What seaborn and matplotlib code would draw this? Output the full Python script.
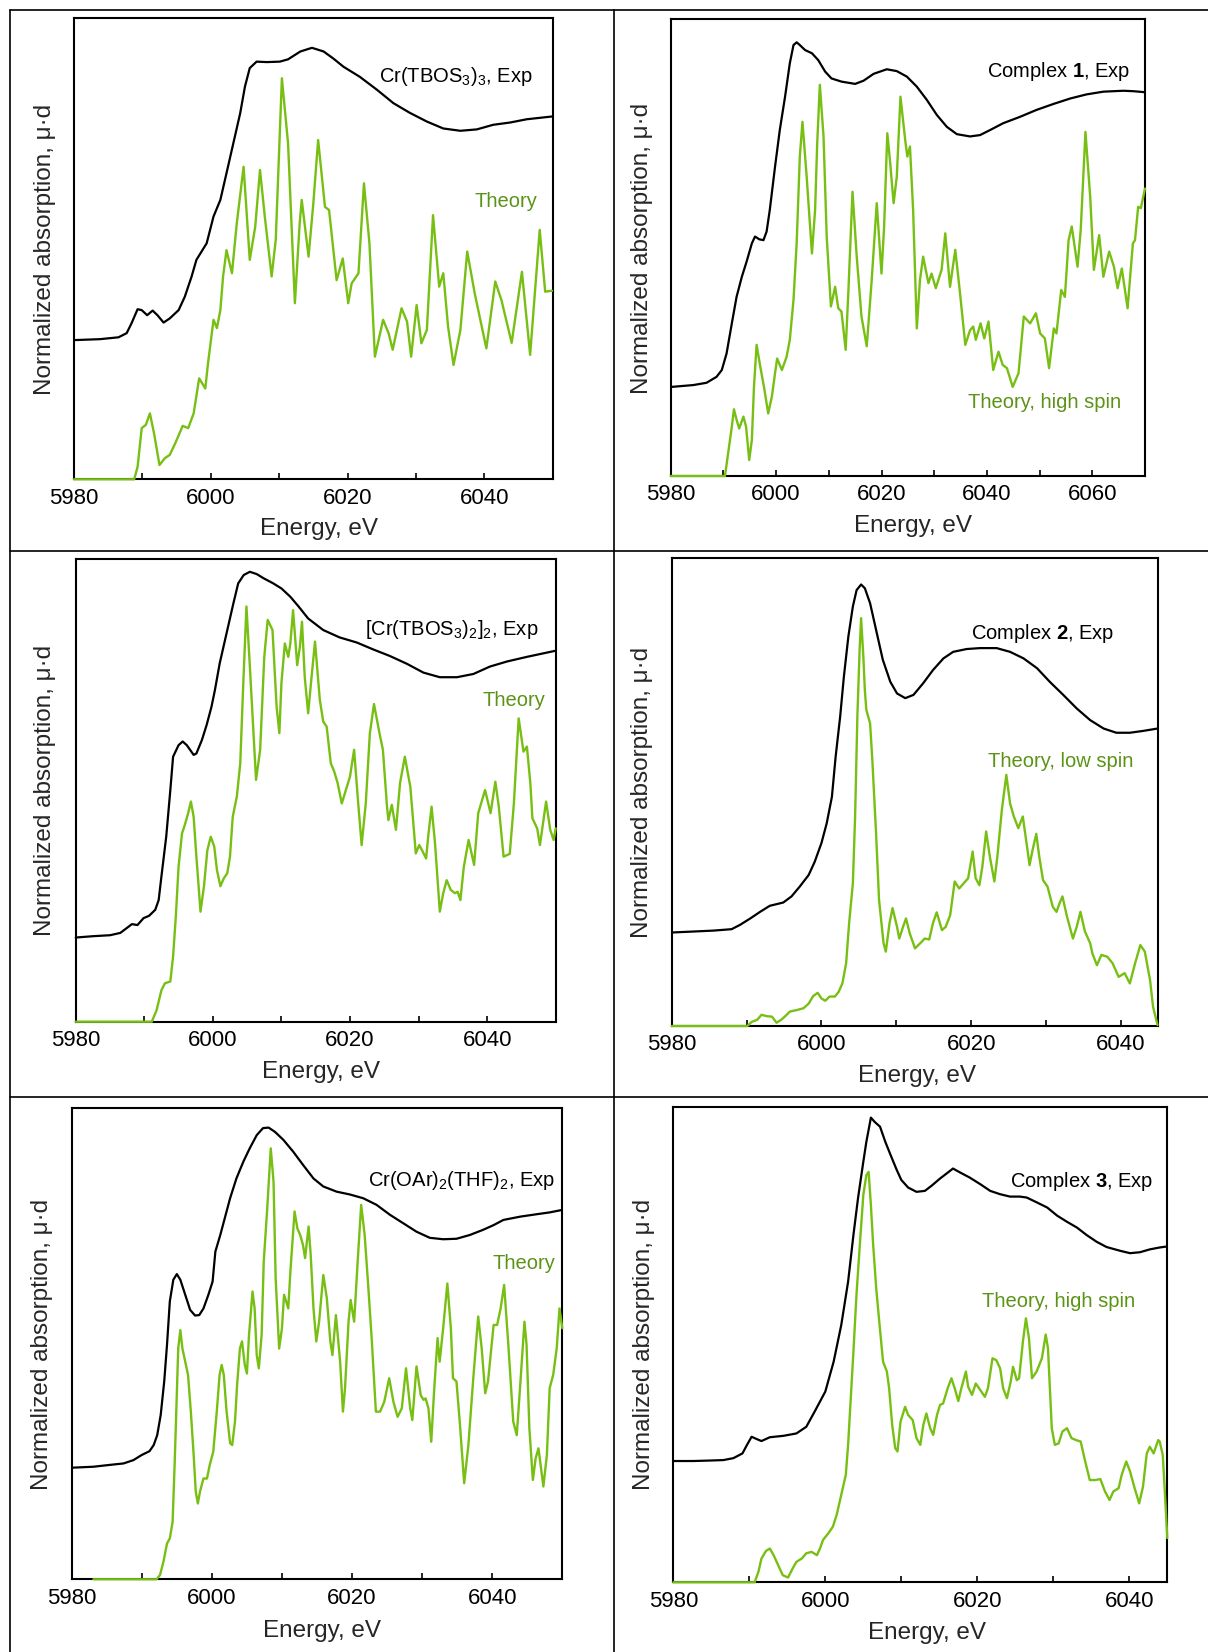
import numpy as np
import matplotlib
matplotlib.use("Agg")
import matplotlib.pyplot as plt
import seaborn as sns
from matplotlib.lines import Line2D
from matplotlib.ticker import MultipleLocator, FuncFormatter

sns.set_style("white")
plt.rcParams["font.family"] = ["Liberation Sans", "DejaVu Sans"]
plt.rcParams["mathtext.fontset"] = "custom"
plt.rcParams["mathtext.rm"] = "Liberation Sans"
plt.rcParams["mathtext.it"] = "Liberation Sans:italic"
plt.rcParams["mathtext.bf"] = "Liberation Sans:bold"

# ---------------- data: (energy eV, normalized absorption, arb. units) ----------------
p1_exp = np.array([
    (5980.15, 30.2), (5983.8, 30.4), (5986.5, 30.8), (5987.7, 31.7), (5988.4, 33.8),
    (5989.3, 36.9), (5989.9, 36.7), (5990.7, 35.6), (5991.5, 36.6), (5992.2, 35.6),
    (5993.1, 34.0), (5994.0, 34.9), (5995.3, 36.7), (5996.2, 39.6), (5997.2, 44.0),
    (5997.9, 47.6), (5999.4, 51.2), (6000.4, 57.0), (6001.4, 60.6), (6002.3, 66.4),
    (6003.3, 72.9), (6004.3, 79.4), (6005.0, 85.2), (6005.7, 89.2), (6006.7, 90.6),
    (6008.2, 90.5), (6010.1, 90.6), (6011.3, 91.1), (6013.1, 92.8), (6014.8, 93.6),
    (6016.5, 92.8), (6017.9, 91.3), (6019.4, 89.5), (6021.8, 87.3), (6024.3, 84.5),
    (6026.7, 81.6), (6029.1, 79.5), (6031.6, 77.6), (6034.0, 76.1), (6036.5, 75.6),
    (6038.9, 75.9), (6041.3, 76.9), (6043.8, 77.4), (6046.2, 78.1), (6049.9, 78.7)])
p1_thy = np.array([
    (5980.0, 0), (5988.8, 0), (5989.3, 2.7), (5989.9, 11.1), (5990.5, 11.8), (5991.1, 14.3),
    (5991.7, 10.0), (5992.5, 3.1), (5993.3, 4.6), (5994.0, 5.3), (5994.8, 7.8), (5995.9, 11.6),
    (5996.7, 11.1), (5997.5, 14.3), (5998.3, 21.9), (5999.2, 19.7), (5999.6, 25.2), (6000.4, 34.6),
    (6000.9, 32.8), (6001.4, 36.7), (6001.8, 44.0), (6002.3, 49.7), (6003.1, 44.7), (6003.8, 55.5),
    (6004.8, 67.8), (6005.7, 47.6), (6006.5, 54.8), (6007.2, 67.1), (6007.9, 57.0), (6008.9, 44.0),
    (6009.5, 51.9), (6010.4, 87.0), (6011.3, 72.9), (6012.3, 38.2), (6013.0, 55.5), (6013.3, 60.6),
    (6014.3, 48.3), (6015.0, 59.9), (6015.7, 73.6), (6016.7, 59.1), (6017.3, 58.4), (6018.4, 43.2),
    (6019.3, 47.9), (6020.1, 38.2), (6020.6, 42.5), (6021.6, 44.7), (6022.4, 64.2), (6023.2, 51.2),
    (6024.0, 26.6), (6025.2, 34.6), (6026.0, 31.7), (6026.6, 28.1), (6027.9, 37.1), (6028.7, 34.2),
    (6029.3, 26.6), (6030.1, 37.8), (6030.8, 29.5), (6031.6, 32.4), (6032.5, 57.3), (6033.4, 41.8),
    (6034.0, 44.7), (6034.7, 33.1), (6035.5, 24.8), (6036.5, 32.4), (6037.5, 49.4), (6038.6, 40.3),
    (6040.3, 28.4), (6041.6, 42.9), (6042.5, 38.9), (6044.0, 29.6), (6045.5, 45.0), (6046.7, 27.0),
    (6048.1, 54.1), (6048.9, 40.7), (6049.9, 40.9)])

p2_exp = np.array([
    (5980.2, 19.5), (5984.3, 19.9), (5986.8, 20.4), (5988.7, 21.7), (5989.7, 23.2), (5990.6, 26.8),
    (5991.6, 33.4), (5992.5, 39.2), (5993.5, 43.6), (5994.4, 46.9), (5995.4, 50.9), (5996.0, 52.4),
    (5996.8, 51.8), (5997.6, 51.6), (5998.2, 53.5), (5998.8, 58.2), (5999.8, 67.7), (6000.7, 75.7),
    (6001.7, 83.0), (6002.6, 90.3), (6003.3, 94.3), (6003.9, 94.9), (6004.5, 94.3), (6005.5, 93.2),
    (6006.8, 92.5), (6008.0, 91.0), (6009.3, 88.5), (6010.5, 87.0), (6012.4, 86.3), (6015.0, 85.8),
    (6016.6, 86.5), (6018.5, 88.0), (6021.0, 89.0), (6022.9, 88.6), (6024.8, 87.4), (6026.7, 85.2),
    (6028.6, 82.3), (6030.5, 79.0), (6032.4, 76.4), (6034.3, 74.8), (6036.8, 74.3), (6038.7, 74.6),
    (6040.6, 75.7), (6043.1, 77.2), (6046.3, 78.6), (6049.4, 80.1), (6052.6, 81.4), (6055.8, 82.6),
    (6058.9, 83.5), (6062.1, 84.1), (6065.9, 84.3), (6067.8, 84.2), (6069.8, 84.0)])
p2_thy = np.array([
    (5980.0, 0), (5990.3, 0), (5990.9, 5.0), (5991.6, 10.8), (5992.0, 14.6), (5992.5, 12.3),
    (5993.0, 10.4), (5993.8, 13.0), (5994.3, 10.8), (5994.9, 3.5), (5995.4, 7.9), (5995.8, 19.5),
    (5996.3, 28.7), (5997.0, 23.9), (5997.7, 19.5), (5998.5, 13.7), (5999.2, 17.4), (5999.8, 22.5),
    (6000.2, 25.7), (6001.1, 23.2), (6002.0, 26.1), (6002.6, 29.8), (6003.3, 38.5), (6003.9, 50.9),
    (6004.5, 69.9), (6005.0, 77.5), (6005.8, 65.5), (6006.8, 48.7), (6007.4, 58.2), (6007.8, 72.8),
    (6008.3, 85.6), (6009.0, 74.3), (6009.6, 52.4), (6010.4, 37.1), (6011.2, 41.4), (6011.8, 36.7),
    (6012.4, 36.0), (6013.2, 27.6), (6013.7, 40.0), (6014.5, 62.2), (6015.3, 48.0), (6016.2, 34.9),
    (6017.2, 28.4), (6018.1, 42.2), (6019.1, 59.7), (6020.0, 44.3), (6020.5, 54.6), (6021.1, 75.0),
    (6021.6, 69.1), (6022.3, 59.7), (6022.9, 65.5), (6023.6, 83.0), (6024.5, 73.5), (6024.9, 69.9),
    (6025.4, 72.1), (6026.0, 58.2), (6026.7, 32.3), (6027.3, 42.9), (6027.9, 48.0), (6028.9, 42.2),
    (6029.5, 44.3), (6030.3, 41.1), (6031.4, 45.1), (6032.1, 53.1), (6033.0, 41.4), (6034.0, 49.5),
    (6034.9, 40.0), (6035.9, 28.7), (6036.8, 31.9), (6037.4, 32.7), (6037.9, 29.8), (6038.8, 33.4),
    (6039.5, 30.1), (6040.3, 33.8), (6041.2, 23.2), (6042.2, 27.2), (6043.0, 24.3), (6043.8, 23.6),
    (6044.9, 19.5), (6046.0, 22.5), (6047.0, 34.9), (6048.2, 33.4), (6049.3, 35.6), (6050.1, 31.2),
    (6051.0, 30.1), (6051.8, 23.6), (6052.7, 32.3), (6053.2, 31.2), (6054.1, 40.7), (6054.8, 39.2),
    (6055.5, 51.6), (6056.1, 54.6), (6057.2, 45.8), (6057.8, 53.8), (6058.7, 75.3), (6059.6, 61.1),
    (6060.3, 45.1), (6061.3, 52.7), (6062.1, 43.6), (6063.2, 49.1), (6064.1, 45.8), (6064.8, 41.1),
    (6065.6, 45.4), (6066.7, 36.7), (6067.7, 50.9), (6068.1, 51.6), (6068.7, 58.9), (6069.2, 58.6),
    (6070.0, 62.9)])

p3_exp = np.array([
    (5980.0, 18.2), (5982.6, 18.5), (5985.0, 18.7), (5986.5, 19.2), (5987.4, 20.2), (5988.2, 21.1),
    (5989.0, 20.9), (5989.9, 22.4), (5990.7, 22.9), (5991.6, 24.2), (5992.1, 26.3), (5992.5, 31.4),
    (5993.2, 40.0), (5993.8, 50.1), (5994.2, 57.3), (5995.0, 59.8), (5995.6, 60.6), (5996.2, 59.8),
    (5997.2, 57.7), (5997.6, 58.0), (5998.4, 60.9), (5999.1, 64.2), (5999.8, 68.1), (6000.3, 71.7),
    (6001.0, 77.5), (6002.0, 84.0), (6003.0, 90.5), (6003.7, 94.8), (6004.5, 96.6), (6005.4, 97.3),
    (6006.4, 96.8), (6007.4, 95.9), (6008.8, 94.8), (6010.0, 93.7), (6011.3, 91.9), (6012.5, 89.8),
    (6013.9, 87.2), (6016.1, 84.7), (6018.5, 83.1), (6021.0, 82.0), (6023.4, 80.5), (6025.8, 79.1),
    (6028.3, 77.4), (6030.7, 75.5), (6033.1, 74.5), (6035.6, 74.5), (6038.0, 75.2), (6040.4, 76.8),
    (6042.9, 77.9), (6045.8, 78.9), (6049.9, 80.2)])
p3_thy = np.array([
    (5980.0, 0), (5991.1, 0), (5991.8, 2.5), (5992.5, 6.8), (5993.0, 8.3), (5993.8, 8.7),
    (5994.2, 14.1), (5994.6, 22.7), (5995.0, 33.5), (5995.5, 40.7), (5995.9, 42.5), (5996.4, 45.1),
    (5996.8, 47.6), (5997.2, 44.3), (5997.6, 35.7), (5998.2, 23.8), (5998.7, 29.2), (5999.2, 37.1),
    (5999.7, 40.0), (6000.2, 37.9), (6000.6, 32.8), (6001.1, 29.3), (6001.6, 31.0), (6002.1, 32.1),
    (6002.5, 35.7), (6002.9, 44.3), (6003.5, 48.7), (6004.0, 55.9), (6004.4, 71.7), (6004.9, 89.8),
    (6005.4, 76.8), (6006.3, 52.3), (6006.9, 58.8), (6007.5, 78.9), (6008.0, 86.9), (6008.7, 84.7),
    (6009.3, 68.1), (6009.7, 62.4), (6010.0, 73.2), (6010.5, 81.8), (6011.0, 78.9), (6011.3, 81.8),
    (6011.7, 89.0), (6012.3, 77.1), (6012.7, 81.1), (6013.0, 86.5), (6013.4, 74.6), (6013.9, 66.7),
    (6014.4, 74.6), (6014.9, 82.2), (6015.6, 69.6), (6016.1, 64.9), (6016.6, 63.8), (6017.2, 55.9),
    (6017.7, 54.1), (6018.2, 51.6), (6018.8, 47.2), (6019.4, 50.1), (6020.0, 53.0), (6020.6, 58.8),
    (6021.2, 47.2), (6021.7, 38.2), (6022.3, 47.2), (6022.9, 62.4), (6023.5, 68.7), (6024.3, 62.4),
    (6024.8, 58.8), (6025.4, 46.5), (6025.6, 43.6), (6026.1, 46.9), (6026.7, 41.5), (6027.3, 51.6),
    (6028.0, 57.3), (6028.8, 50.8), (6029.2, 43.6), (6029.6, 36.4), (6030.1, 38.2), (6030.5, 37.1),
    (6031.1, 35.3), (6031.4, 40.0), (6031.9, 46.5), (6032.4, 38.6), (6033.1, 23.8), (6033.6, 27.8),
    (6034.1, 30.6), (6034.7, 28.5), (6035.3, 27.8), (6035.7, 28.1), (6036.1, 26.3), (6036.6, 33.5),
    (6037.3, 39.3), (6038.1, 33.9), (6038.7, 45.1), (6039.7, 50.1), (6040.5, 45.1), (6041.2, 51.9),
    (6041.7, 46.5), (6042.4, 35.7), (6043.3, 36.3), (6043.9, 47.2), (6044.6, 65.6), (6045.3, 58.4),
    (6045.8, 59.5), (6046.3, 51.6), (6046.6, 44.0), (6047.3, 41.8), (6047.7, 38.2), (6048.6, 47.6),
    (6049.2, 41.5), (6049.7, 39.3), (6050.0, 41.8)])

p4_exp = np.array([
    (5980.1, 20.0), (5982.9, 20.2), (5985.6, 20.4), (5988.0, 20.7), (5989.1, 21.6), (5990.5, 23.0),
    (5991.8, 24.4), (5993.1, 25.7), (5994.9, 26.4), (5996.0, 27.7), (5997.1, 29.8), (5998.3, 32.3),
    (5999.1, 35.1), (6000.0, 39.1), (6000.7, 43.3), (6001.4, 49.0), (6001.9, 57.6), (6002.5, 66.1),
    (6003.0, 74.7), (6003.6, 83.3), (6004.2, 89.7), (6004.7, 93.2), (6005.3, 94.4), (6005.8, 93.6),
    (6006.5, 90.4), (6007.3, 84.7), (6008.2, 78.3), (6009.2, 73.6), (6010.1, 71.1), (6011.2, 70.1),
    (6012.3, 70.8), (6013.6, 73.3), (6014.9, 76.1), (6016.3, 78.6), (6017.6, 80.0), (6019.4, 80.6),
    (6021.2, 80.8), (6023.4, 80.8), (6025.2, 80.0), (6027.0, 78.6), (6028.8, 76.5), (6030.5, 73.6),
    (6032.3, 70.8), (6034.1, 67.9), (6035.9, 65.4), (6037.7, 63.6), (6039.4, 62.7), (6041.2, 62.7),
    (6043.0, 63.1), (6044.9, 63.6)])
p4_thy = np.array([
    (5980.0, 0), (5990.1, 0), (5990.7, 0.9), (5991.4, 1.3), (5992.0, 2.4), (5992.7, 2.1),
    (5993.4, 2.0), (5994.0, 0.7), (5994.6, 1.3), (5995.1, 2.0), (5995.8, 3.1), (5996.7, 3.4),
    (5997.6, 3.8), (5998.3, 4.8), (5998.9, 6.4), (5999.5, 7.1), (6000.0, 5.9), (6000.5, 5.4),
    (6001.1, 6.3), (6001.8, 6.3), (6002.3, 7.3), (6002.8, 9.1), (6003.3, 13.4), (6003.7, 22.0),
    (6004.2, 30.5), (6004.5, 44.8), (6004.8, 66.1), (6005.1, 80.4), (6005.3, 87.2), (6005.6, 79.0),
    (6005.8, 71.8), (6006.0, 67.6), (6006.5, 64.7), (6006.8, 56.9), (6007.3, 41.2), (6007.7, 26.9),
    (6008.3, 17.7), (6008.6, 15.9), (6009.1, 22.0), (6009.5, 25.2), (6010.1, 21.2), (6010.4, 18.7),
    (6010.9, 21.2), (6011.3, 23.0), (6011.8, 19.8), (6012.5, 16.6), (6013.2, 17.7), (6013.8, 18.7),
    (6014.4, 18.5), (6014.9, 22.0), (6015.4, 24.3), (6016.1, 20.5), (6016.6, 21.2), (6017.2, 23.7),
    (6017.8, 30.9), (6018.4, 29.4), (6019.0, 30.5), (6019.6, 31.6), (6020.2, 37.3), (6020.6, 31.6),
    (6021.1, 30.1), (6021.5, 34.1), (6022.0, 41.6), (6022.5, 36.2), (6023.1, 30.9), (6023.5, 36.2),
    (6024.1, 46.2), (6024.7, 53.7), (6025.2, 47.6), (6025.7, 44.8), (6026.3, 42.3), (6026.9, 44.8),
    (6027.4, 39.1), (6027.8, 34.4), (6028.2, 37.6), (6028.7, 41.1), (6029.1, 36.2), (6029.6, 31.2),
    (6030.2, 29.8), (6030.9, 25.5), (6031.4, 24.4), (6031.8, 26.2), (6032.2, 27.7), (6032.8, 23.4),
    (6033.6, 18.7), (6034.1, 21.2), (6034.6, 24.4), (6035.2, 20.2), (6035.9, 17.7), (6036.2, 15.5),
    (6036.8, 13.0), (6037.4, 15.2), (6038.2, 14.8), (6038.9, 13.4), (6039.7, 10.5), (6040.1, 10.9),
    (6040.5, 11.3), (6041.2, 9.1), (6041.9, 13.4), (6042.6, 17.3), (6043.2, 15.9), (6043.9, 9.8),
    (6044.3, 4.1), (6044.9, 0.2)])

p5_exp = np.array([
    (5980.1, 23.7), (5983.1, 23.9), (5985.5, 24.3), (5987.4, 24.6), (5988.8, 25.3), (5990.0, 26.4),
    (5991.1, 27.2), (5991.7, 28.5), (5992.2, 30.6), (5992.7, 34.9), (5993.2, 42.0), (5993.6, 49.8),
    (5994.0, 59.0), (5994.5, 63.6), (5995.0, 64.8), (5995.5, 63.6), (5996.2, 60.4), (5996.9, 57.2),
    (5997.6, 56.0), (5998.2, 56.1), (5998.8, 57.5), (5999.5, 60.4), (6000.1, 63.2), (6000.5, 69.6),
    (6001.2, 73.1), (6001.9, 77.0), (6002.6, 80.9), (6003.5, 85.1), (6004.5, 88.7), (6005.4, 91.5),
    (6006.4, 94.3), (6007.3, 95.8), (6008.1, 95.9), (6009.0, 95.0), (6010.2, 93.3), (6011.6, 90.8),
    (6013.0, 88.0), (6014.5, 85.1), (6015.9, 83.4), (6017.8, 82.3), (6019.7, 81.7), (6021.6, 80.9),
    (6023.5, 79.5), (6025.4, 77.4), (6027.3, 75.6), (6029.2, 73.8), (6031.1, 72.5), (6033.0, 72.2),
    (6034.9, 72.3), (6036.8, 73.1), (6038.7, 74.2), (6040.2, 75.2), (6041.6, 76.3), (6044.0, 77.0),
    (6046.3, 77.5), (6048.2, 77.9), (6049.9, 78.4)])
p5_thy = np.array([
    (5983.1, 0), (5992.1, 0), (5992.6, 0.9), (5993.1, 3.8), (5993.6, 7.6), (5994.0, 8.7),
    (5994.4, 12.2), (5994.7, 25.0), (5995.0, 39.1), (5995.2, 49.0), (5995.5, 52.9), (5995.8, 49.0),
    (5996.2, 46.2), (5996.6, 43.4), (5997.0, 35.6), (5997.4, 26.4), (5997.7, 18.6), (5998.0, 16.1),
    (5998.3, 18.6), (5998.8, 21.4), (5999.3, 21.4), (5999.7, 24.3), (6000.2, 27.1), (6000.7, 35.6),
    (6001.1, 43.4), (6001.4, 45.5), (6001.7, 43.4), (6002.1, 35.6), (6002.6, 28.9), (6002.9, 28.5),
    (6003.3, 33.5), (6003.6, 41.3), (6004.0, 49.0), (6004.3, 50.5), (6004.7, 45.5), (6005.0, 43.7),
    (6005.3, 51.9), (6005.8, 61.1), (6006.1, 57.5), (6006.4, 47.6), (6006.7, 44.8), (6007.1, 51.9),
    (6007.4, 67.4), (6007.9, 78.8), (6008.4, 91.5), (6008.8, 84.4), (6009.1, 63.9), (6009.6, 49.0),
    (6010.0, 53.3), (6010.3, 60.4), (6010.6, 59.0), (6010.9, 57.5), (6011.2, 65.3), (6011.8, 78.1),
    (6012.2, 74.5), (6012.6, 73.1), (6013.0, 71.0), (6013.3, 68.2), (6013.8, 74.9), (6014.1, 68.9),
    (6014.5, 57.5), (6014.9, 50.5), (6015.3, 54.7), (6015.9, 64.6), (6016.4, 59.7), (6016.9, 50.5),
    (6017.2, 47.6), (6017.7, 56.1), (6018.3, 46.2), (6018.7, 35.6), (6019.0, 40.6), (6019.5, 54.7),
    (6019.8, 59.3), (6020.3, 54.7), (6020.8, 67.4), (6021.3, 79.5), (6021.8, 73.1), (6022.3, 62.5),
    (6022.8, 51.2), (6023.4, 35.6), (6024.0, 35.6), (6024.6, 37.7), (6025.3, 42.7), (6025.9, 37.7),
    (6026.5, 34.5), (6027.1, 36.3), (6027.7, 44.8), (6028.3, 36.3), (6028.6, 33.8), (6029.2, 45.2),
    (6029.8, 39.1), (6030.2, 38.1), (6030.5, 38.4), (6030.9, 36.3), (6031.3, 29.2), (6031.7, 39.8),
    (6032.2, 51.2), (6032.5, 46.2), (6033.0, 53.3), (6033.6, 62.8), (6034.1, 53.3), (6034.4, 42.7),
    (6034.9, 42.0), (6035.4, 32.8), (6036.0, 20.4), (6036.6, 28.5), (6037.3, 42.7), (6038.0, 55.8),
    (6038.5, 49.0), (6039.0, 39.5), (6039.4, 42.0), (6040.2, 54.0), (6040.7, 54.0), (6041.2, 57.5),
    (6041.7, 62.5), (6042.3, 49.8), (6043.0, 33.5), (6043.5, 30.6), (6044.0, 41.3), (6044.6, 54.7),
    (6044.9, 49.8), (6045.3, 32.1), (6045.8, 21.1), (6046.2, 25.7), (6046.6, 27.8), (6047.3, 19.7),
    (6047.8, 26.4), (6048.2, 40.6), (6048.7, 43.4), (6049.2, 49.0), (6049.6, 57.5), (6050.0, 53.3)])

p6_exp = np.array([
    (5980.1, 25.5), (5982.6, 25.5), (5984.8, 25.6), (5986.6, 25.7), (5987.9, 26.1), (5989.1, 27.1),
    (5989.7, 28.9), (5990.3, 30.6), (5991.0, 30.1), (5991.6, 29.7), (5992.7, 30.5), (5994.5, 30.8),
    (5996.2, 31.3), (5997.5, 32.7), (5998.6, 35.9), (6000.0, 40.1), (6001.1, 46.4), (6002.1, 54.1),
    (6003.0, 63.2), (6003.7, 73.0), (6004.3, 80.7), (6005.0, 88.4), (6005.4, 92.6), (6006.0, 97.7),
    (6006.5, 96.8), (6007.2, 95.8), (6007.9, 92.6), (6008.5, 90.2), (6009.4, 86.7), (6010.0, 84.6),
    (6010.9, 83.0), (6012.0, 82.1), (6013.1, 82.3), (6014.0, 83.4), (6015.1, 84.9), (6016.0, 86.0),
    (6016.8, 87.0), (6017.7, 86.2), (6019.0, 85.1), (6020.4, 83.7), (6021.7, 82.3), (6023.0, 81.6),
    (6024.3, 81.1), (6025.6, 81.1), (6026.5, 80.9), (6027.8, 79.9), (6029.2, 78.8), (6030.5, 77.1),
    (6031.8, 75.8), (6033.1, 74.6), (6034.4, 73.0), (6035.7, 71.6), (6037.0, 70.5), (6038.8, 69.7),
    (6040.1, 69.2), (6041.4, 69.4), (6042.7, 70.0), (6044.0, 70.4), (6044.9, 70.6)])
p6_thy = np.array([
    (5980.0, 0), (5990.7, 0), (5991.2, 2.2), (5991.6, 5.0), (5992.2, 6.6), (5992.7, 7.1),
    (5993.2, 5.7), (5993.8, 3.6), (5994.4, 1.5), (5995.1, 1.0), (5995.7, 2.9), (5996.2, 4.3),
    (5996.9, 5.0), (5997.5, 6.1), (5998.2, 6.4), (5998.9, 5.7), (5999.3, 7.1), (5999.7, 8.9),
    (6000.4, 10.3), (6001.0, 11.7), (6001.5, 14.2), (6002.1, 18.4), (6002.7, 22.6), (6003.0, 28.9),
    (6003.3, 37.3), (6003.7, 48.5), (6004.1, 60.4), (6004.6, 72.3), (6005.0, 81.4), (6005.4, 85.6),
    (6005.7, 86.3), (6006.0, 79.3), (6006.3, 70.9), (6006.7, 61.8), (6007.1, 54.8), (6007.6, 46.4),
    (6008.1, 44.3), (6008.4, 40.8), (6008.8, 33.1), (6009.2, 28.2), (6009.5, 27.5), (6009.9, 33.8),
    (6010.5, 36.9), (6010.9, 35.2), (6011.5, 34.1), (6012.0, 30.3), (6012.5, 28.9), (6012.9, 33.1),
    (6013.3, 35.5), (6013.8, 32.4), (6014.2, 31.0), (6014.7, 35.2), (6015.1, 37.3), (6015.5, 37.6),
    (6016.1, 40.8), (6016.6, 42.9), (6017.1, 40.4), (6017.5, 38.1), (6017.9, 40.8), (6018.5, 44.3),
    (6018.8, 41.1), (6019.3, 39.4), (6019.8, 41.8), (6020.4, 40.4), (6021.0, 39.0), (6021.4, 40.8),
    (6022.0, 47.1), (6022.5, 46.7), (6023.0, 45.0), (6023.4, 40.8), (6023.9, 38.7), (6024.4, 42.2),
    (6024.7, 45.3), (6025.2, 42.5), (6025.5, 42.9), (6026.0, 50.6), (6026.4, 55.5), (6026.8, 51.3),
    (6027.2, 42.9), (6027.8, 44.3), (6028.5, 47.1), (6029.0, 52.1), (6029.3, 49.2), (6029.8, 32.4),
    (6030.2, 28.9), (6030.7, 29.2), (6031.2, 31.7), (6031.8, 32.4), (6032.4, 30.3), (6033.0, 29.9),
    (6033.6, 29.6), (6034.2, 25.4), (6034.8, 21.5), (6035.5, 21.5), (6036.2, 21.7), (6036.8, 19.1),
    (6037.4, 17.3), (6037.9, 19.1), (6038.6, 19.8), (6039.0, 22.6), (6039.6, 25.4), (6040.1, 23.3),
    (6040.7, 19.8), (6041.3, 16.6), (6041.8, 20.1), (6042.3, 27.1), (6042.7, 28.5), (6043.2, 27.1),
    (6043.8, 29.9), (6044.0, 29.6), (6044.4, 26.8), (6044.7, 18.4), (6045.0, 9.3)])

exp_labels = [r"Cr(TBOS$_3$)$_3$, Exp", r"Complex $\mathbf{1}$, Exp",
              r"[Cr(TBOS$_3$)$_2$]$_2$, Exp", r"Complex $\mathbf{2}$, Exp",
              r"Cr(OAr)$_2$(THF)$_2$, Exp", r"Complex $\mathbf{3}$, Exp"]
thy_labels = ["Theory", "Theory, high spin", "Theory", "Theory, low spin",
              "Theory", "Theory, high spin"]
x_ranges = [(5980, 6050), (5980, 6070), (5980, 6050), (5980, 6045), (5980, 6050), (5980, 6045)]
xlabel_text = "Energy, eV"
ylabel_text = "Normalized absorption, \u03bc\u00b7d"

# ---------------- layout (pixels) ----------------
W, H = 1208, 1652
BLACK = "#000000"
GREEN = "#78bf14"
GREEN_TXT = "#5b9317"

layout = [
    dict(rect=(74, 18.3, 552.7, 479.3), epos=(0.959, 0.8625), tpos=(0.969, 0.591), ylab=(45, 249), xlab=(319, 529)),
    dict(rect=(670.7, 19, 1145, 476), epos=(0.968, 0.874), tpos=(0.949, 0.149), ylab=(642, 248), xlab=(913, 526)),
    dict(rect=(75.7, 559.3, 555.7, 1021.7), epos=(0.964, 0.836), tpos=(0.979, 0.683), ylab=(45, 790), xlab=(321, 1072)),
    dict(rect=(671.7, 558.3, 1158.3, 1026), epos=(0.909, 0.827), tpos=(0.949, 0.554), ylab=(642, 792), xlab=(917, 1076)),
    dict(rect=(71.7, 1108.3, 562.3, 1579.3), epos=(0.985, 0.834), tpos=(0.985, 0.659), ylab=(42, 1344), xlab=(322, 1631)),
    dict(rect=(673.3, 1106.7, 1167.3, 1582.3), epos=(0.972, 0.832), tpos=(0.935, 0.578), ylab=(644, 1344), xlab=(927, 1633)),
]
exp_data = [p1_exp, p2_exp, p3_exp, p4_exp, p5_exp, p6_exp]
thy_data = [p1_thy, p2_thy, p3_thy, p4_thy, p5_thy, p6_thy]

fig = plt.figure(figsize=(W / 100, H / 100), dpi=100)

def fx(px):
    return px / W

def fy(py):
    return 1 - py / H

# table grid lines
grid_lines = [((10, 10), (W, 10)), ((10, 10), (10, H)), ((614, 10), (614, H)),
              ((10, 551), (W, 551)), ((10, 1097), (W, 1097))]
for (x0, y0), (x1, y1) in grid_lines:
    fig.add_artist(Line2D([fx(x0), fx(x1)], [fy(y0), fy(y1)], color="black", lw=1.2,
                          transform=fig.transFigure))

lab_fmt = FuncFormatter(lambda v, p: f"{int(round(v))}" if int(round(v)) % 20 == 0 else "")

for i, lay in enumerate(layout):
    l, t, r, b = lay["rect"]
    ax = fig.add_axes([fx(l), fy(b), (r - l) / W, (b - t) / H])
    ex, th = exp_data[i], thy_data[i]
    sns.lineplot(x=th[:, 0], y=th[:, 1], ax=ax, color=GREEN, linewidth=1.7,
                 estimator=None, sort=False, legend=False)
    sns.lineplot(x=ex[:, 0], y=ex[:, 1], ax=ax, color=BLACK, linewidth=1.6,
                 estimator=None, sort=False, legend=False)
    for ln in ax.lines:
        ln.set_clip_on(False)
        ln.set_zorder(3)
        ln.set_solid_joinstyle("round")
    ax.set_xlim(*x_ranges[i])
    ax.set_ylim(0, 100)
    ax.set_yticks([])
    ax.set_xlabel("")
    ax.set_ylabel("")
    ax.xaxis.set_major_locator(MultipleLocator(10))
    ax.xaxis.set_major_formatter(lab_fmt)
    ax.tick_params(axis="x", which="both", direction="in", length=4, width=1.2,
                   bottom=True, top=False, labelsize=16, pad=6, colors="black")
    for s in ax.spines.values():
        s.set_linewidth(1.5)
        s.set_color("black")
        s.set_visible(True)
    ax.text(lay["epos"][0], lay["epos"][1], exp_labels[i], transform=ax.transAxes,
            ha="right", va="baseline", fontsize=14.5, color="black")
    ax.text(lay["tpos"][0], lay["tpos"][1], thy_labels[i], transform=ax.transAxes,
            ha="right", va="baseline", fontsize=14.5, color=GREEN_TXT)
    fig.text(fx(lay["ylab"][0]), fy(lay["ylab"][1]), ylabel_text, rotation=90,
             ha="center", va="center", fontsize=17.5)
    fig.text(fx(lay["xlab"][0]), fy(lay["xlab"][1]), xlabel_text,
             ha="center", va="center", fontsize=17.5)

fig.savefig("out.png", dpi=100, facecolor="white")
